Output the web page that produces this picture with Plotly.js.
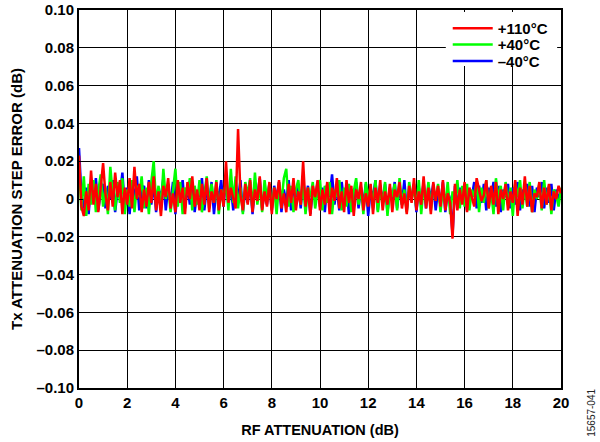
<!DOCTYPE html>
<html><head><meta charset="utf-8">
<script src="https://cdn.plot.ly/plotly-3.0.1.min.js"></script>
<style>html,body{margin:0;padding:0;background:#fff}#chart{width:600px;height:442px}</style>
</head><body><div id="chart"></div>
<script>
// RF attenuation sweep: 0 dB to 20 dB in 0.1 dB steps
const attenStart = 0;
const attenStep = 0.1;

// Tx attenuation step error (dB), +110°C
const err110 = [
 .023,-.004,-.009,.004,-.006,.015,-.003,.008,-.007,.006,
 .019,.002,-.006,.009,-.004,.014,.001,.010,-.008,.006,
 -.003,.011,-.005,.017,.000,.008,-.007,.005,-.004,.009,
 -.002,.012,-.006,.004,-.009,.007,.001,.011,-.005,.003,
 -.007,.010,-.002,.006,-.008,.009,.000,.012,-.004,.005,
 -.006,.008,-.003,.011,-.007,.004,-.002,.009,-.006,.005,
 -.004,.020,-.002,.006,.001,-.005,.037,.002,-.006,.008,
 -.003,.010,-.007,.005,-.001,.012,-.006,.004,-.004,.009,
 -.008,.006,.000,.010,-.005,.003,-.007,.008,-.002,.011,
 -.006,.004,-.003,.020,-.004,.006,-.009,.007,.001,.010,
 -.006,.005,-.003,.009,-.008,.006,-.001,.011,-.005,.004,
 -.007,.010,-.002,.007,-.009,.005,.000,.009,-.006,.003,
 -.004,.008,-.008,.006,-.002,.010,-.006,.004,-.003,.008,
 -.007,.005,.001,.009,-.005,.003,-.008,.007,-.002,.011,
 -.006,.004,-.003,.012,-.005,.006,-.008,.009,-.001,.007,
 -.004,.010,-.006,.003,-.002,-.021,.008,-.006,.005,-.003,
 .009,-.007,.006,.001,-.004,.011,.004,-.001,.002,.010,
 -.005,.007,-.003,.009,-.008,.005,.000,.008,-.006,.004,
 -.002,.010,-.009,.006,-.003,.012,-.004,.007,-.007,.003,
 .001,.009,-.005,.006,-.003,.008,-.006,.004,.000,.007,
 .003
];

// Tx attenuation step error (dB), +40°C
const err40 = [
 .018,-.006,.012,-.009,.008,-.003,.010,-.007,.004,.013,
 -.004,.006,-.008,.017,.002,-.006,.009,-.002,.011,-.008,
 .005,-.004,.010,-.007,.007,.001,.012,-.005,.006,-.008,
 .009,.020,-.003,.007,-.006,.016,.000,.008,-.007,.005,
 .016,-.004,.009,-.008,.006,.002,.011,-.006,.007,-.003,
 .010,-.007,.004,.012,-.005,.008,-.002,.010,-.008,.005,
 .001,.009,-.006,.016,-.002,.012,-.005,.006,-.008,.009,
 .002,.011,-.006,.014,-.003,.007,-.007,.010,.000,.008,
 -.005,.006,-.008,.009,-.002,.011,.016,-.004,.007,-.007,
 .005,.010,-.003,.008,-.008,.006,.001,.009,-.005,.004,
 .010,-.006,.007,-.002,.009,-.008,.005,.001,.010,-.006,
 .006,-.004,.008,-.007,.004,.011,-.003,.006,-.008,.009,
 .000,.007,-.005,.010,-.007,.005,-.002,.009,-.009,.006,
 .001,.008,-.006,.011,-.003,.005,-.007,.009,.000,.006,
 -.005,.010,-.008,.007,-.002,.009,-.006,.005,.001,.008,
 -.007,.006,-.003,.009,-.008,.004,-.001,.010,-.005,.007,
 -.004,.008,-.006,.005,.001,.009,-.007,.006,-.002,.010,
 -.005,.004,-.008,.011,.000,.007,-.006,.009,-.003,.006,
 -.009,.008,.001,.010,-.005,.006,-.004,.009,-.007,.005,
 .000,.008,-.006,.010,-.003,.007,-.008,.005,.002,-.004,
 .006
];

// Tx attenuation step error (dB), −40°C
const errM40 = [
 .027,.002,-.005,.006,-.008,.009,-.002,.011,-.006,.004,
 .008,-.005,.007,.000,.010,-.007,.005,.002,.014,-.004,
 .006,-.008,.009,-.001,.012,-.006,.004,.007,-.005,.010,
 -.003,.008,-.007,.005,.001,.011,-.006,.006,-.002,.009,
 -.008,.005,.002,.010,-.005,.007,-.003,.008,-.007,.004,
 .001,.011,-.006,.006,-.002,.009,-.008,.005,.001,.010,
 -.004,.012,-.003,.007,-.006,.008,.000,.010,-.007,.005,
 -.002,.009,-.008,.006,.001,.011,-.005,.004,-.003,.008,
 -.006,.007,.000,.009,-.007,.005,-.002,.010,-.006,.006,
 .001,.008,-.005,.011,-.003,.007,-.008,.005,.000,.009,
 -.004,.006,-.007,.008,.001,.013,-.003,.006,-.006,.009,
 -.002,.007,-.008,.005,.000,.009,-.005,.006,-.003,.008,
 -.009,.005,.001,.010,-.006,.007,-.002,.008,-.007,.004,
 .000,.009,-.005,.006,-.003,.010,-.006,.005,.001,.008,
 -.007,.006,-.002,.009,-.005,.007,.000,.008,-.006,.005,
 -.003,.009,-.007,.004,.000,-.019,.007,-.004,.006,-.002,
 .008,-.006,.005,.001,.009,-.005,.007,-.002,.008,-.006,
 .006,.000,.009,-.004,.007,-.007,.005,.001,.008,-.005,
 .006,-.003,.009,-.006,.005,.000,.008,-.004,.007,-.007,
 .006,.001,.009,-.005,.006,-.002,.008,-.006,.005,.000,
 .004
];

const seriesNames = ['+110°C', '+40°C', '–40°C'];
const xTickVals = [0, 2, 4, 6, 8, 10, 12, 14, 16, 18, 20];
const yTickVals = [0.10, 0.08, 0.06, 0.04, 0.02, 0, -0.02, -0.04, -0.06, -0.08, -0.10];
const yTickText = ['0.10', '0.08', '0.06', '0.04', '0.02', '0', '–0.02', '–0.04', '–0.06', '–0.08', '–0.10'];

const FONT = 'Liberation Sans, Arial, Helvetica, sans-serif';

function trace(y, name, color, legendId) {
  return {
    type: 'scatter', mode: 'lines', name: name, y: y,
    x0: attenStart, dx: attenStep, legend: legendId,
    line: {color: color, width: 2.5}
  };
}

const data = [
  trace(errM40, seriesNames[2], '#0000ff', 'legend3'),
  trace(err40, seriesNames[1], '#00ff00', 'legend2'),
  trace(err110, seriesNames[0], '#ff0000', 'legend')
];

const axisCommon = {
  showgrid: true, gridcolor: '#000', gridwidth: 1,
  showline: true, linecolor: '#000', linewidth: 2, mirror: true,
  ticks: 'inside', ticklen: 4, tickcolor: '#000', tickwidth: 1,
  zeroline: false,
  tickfont: {family: FONT, size: 15, color: '#000', weight: 'bold'}
};

function legendAt(yPaper) {
  return {
    x: 0.765, xanchor: 'left', y: yPaper, yanchor: 'top',
    bgcolor: 'rgba(0,0,0,0)', borderwidth: 0, itemwidth: 40,
    font: {family: FONT, size: 15, color: '#000', weight: 'bold'}
  };
}

const layout = {
  width: 600, height: 442,
  margin: {l: 79, r: 39, t: 10, b: 54},
  paper_bgcolor: '#fff', plot_bgcolor: '#fff',
  font: {family: FONT, color: '#000'},
  showlegend: true,
  legend: legendAt(0.995),
  legend2: legendAt(0.952),
  legend3: legendAt(0.908),
  shapes: [{
    type: 'rect', xref: 'paper', yref: 'paper', layer: 'above',
    x0: 0.761, x1: 0.992, y0: 0.852, y1: 0.995,
    fillcolor: '#fff', line: {width: 0}
  }],
  xaxis: Object.assign({}, axisCommon, {
    range: [0, 20], tickvals: xTickVals,
    ticktext: xTickVals.map(String),
    title: {text: 'RF ATTENUATION (dB)', font: {family: FONT, size: 14.5, color: '#000', weight: 'bold'}, standoff: 15}
  }),
  yaxis: Object.assign({}, axisCommon, {
    range: [-0.10, 0.10], tickvals: yTickVals, ticktext: yTickText,
    title: {text: 'Tx ATTENUATION STEP ERROR (dB)', font: {family: FONT, size: 15, color: '#000', weight: 'bold'}, standoff: 10}
  }),
  annotations: [{
    text: '15657-041', xref: 'paper', yref: 'paper',
    x: 1.064, y: -0.066, xanchor: 'center', yanchor: 'middle',
    textangle: -90, showarrow: false,
    font: {family: FONT, size: 10, color: '#222'}
  }]
};

Plotly.newPlot('chart', data, layout, {displayModeBar: false, staticPlot: true});
</script>
</body></html>
